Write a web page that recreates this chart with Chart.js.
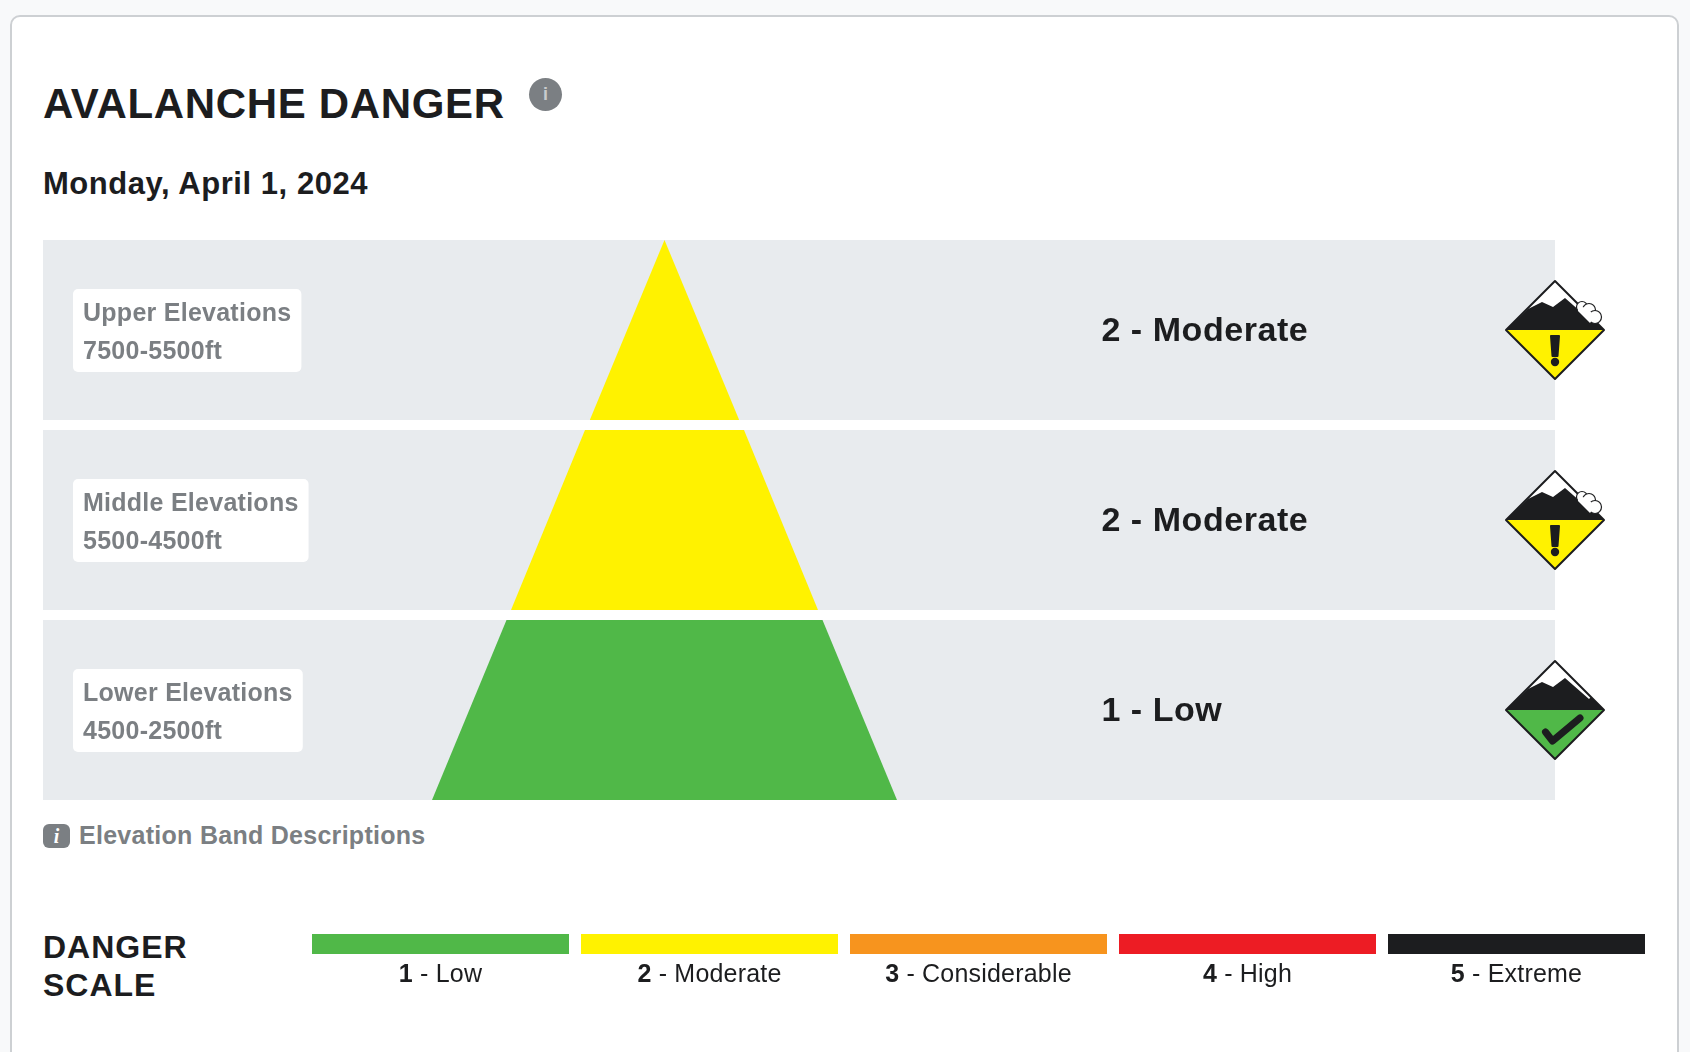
<!DOCTYPE html>
<html>
<head>
<meta charset="utf-8">
<title>Avalanche Danger</title>
<script src="https://cdn.jsdelivr.net/npm/chart.js@4"></script>
<style>
  html, body { margin: 0; padding: 0; background: #f8f9fa; }
  body { width: 1690px; height: 1052px; overflow: hidden; position: relative; font-family: "Liberation Sans", Arial, sans-serif; }
  .card { position: absolute; left: 10px; top: 15px; width: 1669px; height: 1100px; background: #fff; border: 2px solid #cdd0d3; border-radius: 10px; box-sizing: border-box; }
  .abs { position: absolute; white-space: nowrap; }
  h1 { margin: 0; left: 43px; top: 79px; font-size: 42px; line-height: 50px; font-weight: 700; color: #1c1d1f; letter-spacing: 0.66px; }
  h2 { margin: 0; left: 43px; top: 164px; font-size: 31px; line-height: 40px; font-weight: 700; color: #1c1d1f; letter-spacing: 0.55px; }
  .info { left: 529px; top: 78px; width: 33px; height: 33px; border-radius: 50%; background: #7b7f83; color: #c9cbcd; font: 700 18px/33px "Liberation Sans"; text-align: center; }
  .descIcon { left: 43px; top: 824px; width: 27px; height: 24px; border-radius: 6px; background: #7b7f83; color: #fff; font: italic 700 20px/24px "Liberation Serif"; text-align: center; }
  .desc { left: 79px; top: 819px; font-size: 25px; line-height: 32px; font-weight: 700; color: #7b7f83; letter-spacing: 0.28px; }
  .scaleTitle { left: 43px; top: 928px; font-size: 32px; line-height: 38px; font-weight: 700; color: #1c1d1f; letter-spacing: 1px; }
  #bandChart { position: absolute; left: 43px; top: 235px; }
  #scaleChart { position: absolute; left: 306px; top: 934px; }
</style>
</head>
<body>
<div class="card"></div>
<h1 class="abs">AVALANCHE DANGER</h1>
<div class="abs info">i</div>
<h2 class="abs">Monday, April 1, 2024</h2>
<canvas id="bandChart" width="1647" height="570" style="width:1647px;height:570px"></canvas>
<div class="abs descIcon">i</div>
<div class="abs desc">Elevation Band Descriptions</div>
<div class="abs scaleTitle">DANGER<br>SCALE</div>
<canvas id="scaleChart" width="1345" height="60" style="width:1345px;height:60px"></canvas>

<script>
// Elevation bands, top to bottom
const bandNames = ["Upper Elevations", "Middle Elevations", "Lower Elevations"];
const bandRanges = ["7500-5500ft", "5500-4500ft", "4500-2500ft"];
const bandLevels = [2, 2, 1];
const bandRatings = ["2 - Moderate", "2 - Moderate", "1 - Low"];
const rowFill = [1, 1, 1];

// Pyramid slices: depth from the summit, half width at that depth
const sliceTopDepth = [0, 190, 380];
const sliceBottomDepth = [180, 370, 560];
const sliceTopHalf = [0, 79.5, 158];
const sliceBottomHalf = [74.7, 153.5, 232.5];

// Danger scale
const scaleLevels = ["1", "2", "3", "4", "5"];
const scaleNames = ["Low", "Moderate", "Considerable", "High", "Extreme"];
const scaleColors = ["#50b848", "#fff200", "#f7941e", "#ed1c24", "#1c1d1f"];
const scaleFill = [1, 1, 1, 1, 1];

const INK = "#1c1d1f";
const GREY = "#7b7f83";
const FONT = '"Liberation Sans", Arial, sans-serif';

// One diamond danger icon, centred on 0,0
function drawIcon(ctx, level) {
  ctx.lineJoin = "round";
  ctx.lineCap = "round";
  ctx.fillStyle = scaleColors[level - 1];
  ctx.beginPath();
  ctx.moveTo(-49, 0); ctx.lineTo(0, 49); ctx.lineTo(49, 0);
  ctx.closePath();
  ctx.fill();
  ctx.fillStyle = "#fff";
  ctx.beginPath();
  ctx.moveTo(-49, 0); ctx.lineTo(0, -49); ctx.lineTo(49, 0);
  ctx.closePath();
  ctx.fill();

  ctx.strokeStyle = INK;
  ctx.lineWidth = 2;
  ctx.beginPath();
  ctx.moveTo(0, -49); ctx.lineTo(49, 0); ctx.lineTo(0, 49); ctx.lineTo(-49, 0);
  ctx.closePath();
  ctx.stroke();

  // mountain
  ctx.fillStyle = INK;
  ctx.beginPath();
  ctx.moveTo(-49, 0); ctx.lineTo(-27, -21); ctx.lineTo(-13, -28); ctx.lineTo(-2, -23);
  ctx.lineTo(10, -32); ctx.lineTo(34, -11); ctx.lineTo(36, -13); ctx.lineTo(49, 0);
  ctx.closePath();
  ctx.fill();

  if (level == 2) {
    // powder cloud
    ctx.lineWidth = 1.2;
    ctx.fillStyle = "#fff";
    ctx.strokeStyle = INK;
    [[27, -23, 5.5], [34, -20, 6.5], [40, -13, 6.5]].forEach((c) => {
      ctx.beginPath();
      ctx.arc(c[0], c[1], c[2], 0, Math.PI * 2);
      ctx.fill();
      ctx.stroke();
    });
    ctx.beginPath();
    ctx.moveTo(23, -22); ctx.lineTo(28, -23); ctx.lineTo(36, -18); ctx.lineTo(38, -11);
    ctx.lineTo(35, -7); ctx.lineTo(23, -19);
    ctx.closePath();
    ctx.fill();
    // exclamation mark
    ctx.fillStyle = INK;
    ctx.strokeStyle = INK;
    ctx.lineWidth = 2;
    ctx.beginPath();
    ctx.moveTo(-4, 6); ctx.lineTo(4, 6); ctx.lineTo(2.5, 26); ctx.lineTo(-2.5, 26);
    ctx.closePath();
    ctx.fill();
    ctx.stroke();
    ctx.beginPath();
    ctx.arc(0, 32, 4.2, 0, Math.PI * 2);
    ctx.fill();
  } else {
    // check mark
    ctx.strokeStyle = INK;
    ctx.lineWidth = 7;
    ctx.beginPath();
    ctx.moveTo(-9.5, 22); ctx.lineTo(-2.5, 31); ctx.lineTo(25, 8);
    ctx.stroke();
  }
}

// Labels, ratings and icons for each row
const bandExtras = {
  id: "bandExtras",
  afterDatasetsDraw(chart) {
    const { ctx, scales, chartArea } = chart;
    bandRatings.forEach((rating, i) => {
      const y = scales.band.getPixelForValue(i);
      // white label box
      ctx.save();
      ctx.font = "700 25px " + FONT;
      ctx.textBaseline = "alphabetic";
      ctx.textAlign = "left";
      ctx.letterSpacing = "0.26px";
      const textX = chartArea.left + 40;
      const boxW = Math.max(ctx.measureText(bandNames[i]).width, ctx.measureText(bandRanges[i]).width) + 20;
      ctx.fillStyle = "#fff";
      ctx.beginPath();
      ctx.roundRect(textX - 10, y - 41, boxW, 83, 5);
      ctx.fill();
      ctx.fillStyle = GREY;
      ctx.fillText(bandNames[i], textX, y - 9);
      ctx.fillText(bandRanges[i], textX, y + 29);
      ctx.restore();

      ctx.save();
      ctx.font = "700 34px " + FONT;
      ctx.fillStyle = INK;
      ctx.textBaseline = "middle";
      ctx.textAlign = "left";
      ctx.letterSpacing = "0.55px";
      ctx.fillText(rating, scales.rowX.getPixelForValue(0.7), y + 2);
      ctx.restore();

      ctx.save();
      ctx.translate(scales.rowX.getPixelForValue(1), y);
      drawIcon(ctx, bandLevels[i]);
      ctx.restore();
    });
  },
};

const sliceDatasets = bandLevels.map((level, i) => ({
  type: "line",
  label: bandNames[i],
  data: [
    { x: -sliceBottomHalf[i], y: sliceBottomDepth[i] },
    { x: -sliceTopHalf[i], y: sliceTopDepth[i] },
    { x: sliceTopHalf[i], y: sliceTopDepth[i] },
    { x: sliceBottomHalf[i], y: sliceBottomDepth[i] },
  ],
  xAxisID: "pyramidX",
  yAxisID: "depth",
  borderWidth: 0,
  pointRadius: 0,
  tension: 0,
  backgroundColor: scaleColors[level - 1],
  fill: { value: sliceBottomDepth[i] },
  order: 1,
}));

new Chart(document.getElementById("bandChart"), {
  type: "bar",
  plugins: [bandExtras],
  data: {
    labels: bandNames,
    datasets: [
      {
        label: "rows",
        indexAxis: "y",
        data: rowFill,
        xAxisID: "rowX",
        yAxisID: "band",
        backgroundColor: "#e8ebee",
        barPercentage: 180 / 190,
        categoryPercentage: 1,
        grouped: false,
        order: 2,
      },
      ...sliceDatasets,
    ],
  },
  options: {
    responsive: false,
    animation: false,
    devicePixelRatio: 1,
    layout: { padding: { left: 0, right: 135, top: 0, bottom: 0 } },
    plugins: { legend: { display: false }, tooltip: { enabled: false } },
    scales: {
      rowX: { type: "linear", axis: "x", min: 0, max: 1, offset: false, display: false },
      pyramidX: { type: "linear", axis: "x", min: -621.5, max: 890.5, offset: false, display: false },
      depth: { type: "linear", axis: "y", min: -5, max: 565, offset: false, reverse: true, display: false },
      band: { type: "category", axis: "y", offset: true, display: false },
    },
  },
});

// Bold level number plus plain name under each bar
const scaleLabels = {
  id: "scaleLabels",
  afterDraw(chart) {
    const { ctx, scales } = chart;
    scaleLevels.forEach((num, i) => {
      const rest = " - " + scaleNames[i];
      ctx.save();
      ctx.fillStyle = INK;
      ctx.textBaseline = "alphabetic";
      ctx.textAlign = "left";
      ctx.letterSpacing = "0.2px";
      ctx.font = "700 25px " + FONT;
      const numWidth = ctx.measureText(num).width;
      ctx.font = "400 25px " + FONT;
      const restWidth = ctx.measureText(rest).width;
      let x = scales.x.getPixelForValue(i) - (numWidth + restWidth) / 2;
      ctx.font = "700 25px " + FONT;
      ctx.fillText(num, x, 48);
      ctx.font = "400 25px " + FONT;
      ctx.fillText(rest, x + numWidth, 48);
      ctx.restore();
    });
  },
};

new Chart(document.getElementById("scaleChart"), {
  type: "bar",
  plugins: [scaleLabels],
  data: {
    labels: scaleNames,
    datasets: [
      {
        label: "scale",
        data: scaleFill,
        backgroundColor: scaleColors,
        barPercentage: 257 / 269,
        categoryPercentage: 1,
      },
    ],
  },
  options: {
    responsive: false,
    animation: false,
    devicePixelRatio: 1,
    layout: { padding: { bottom: 40 } },
    plugins: { legend: { display: false }, tooltip: { enabled: false } },
    scales: {
      x: { display: false },
      y: { display: false, min: 0, max: 1 },
    },
  },
});
</script>
</body>
</html>
